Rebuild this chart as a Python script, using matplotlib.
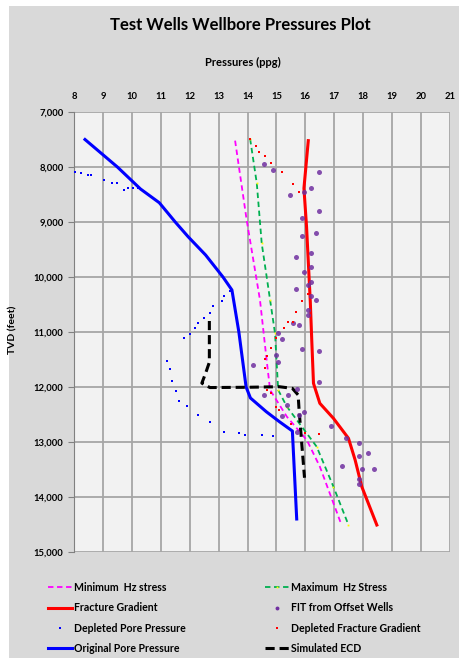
import numpy as np
import matplotlib
matplotlib.use('Agg')
import matplotlib.pyplot as plt
from matplotlib.lines import Line2D
from matplotlib.patches import Rectangle
from matplotlib.ticker import FuncFormatter

plt.rcParams['font.family'] = ['Lato', 'DejaVu Sans']

# ---- data (ppg vs TVD feet) ----
opp_tvd = [7500, 8000, 8400, 8650, 9000, 9270, 9600, 10000, 10236, 11000, 12000,
           12200, 12450, 12630, 12800, 14400]
opp_ppg = [8.38, 9.5, 10.3, 10.95, 11.5, 11.95, 12.55, 13.15, 13.46, 13.7, 13.95,
           14.1, 14.65, 15.1, 15.55, 15.7]

dpp_tvd = [8085, 8100, 8145, 8145, 8240, 8290, 8290, 8420, 8390, 8390, 8390,
           10250, 10340, 10436, 10527, 10660, 10750, 10842, 10920, 11036, 11115,
           11527, 11667, 11885, 12067, 12255, 12345, 12503, 12636, 12818, 12842,
           12873, 12873, 12885]
dpp_ppg = [8.03, 8.23, 8.5, 8.6, 9.05, 9.3, 9.5, 9.74, 9.88, 10.05, 10.22,
           13.4, 13.19, 13.1, 12.82, 12.7, 12.5, 12.3, 12.2, 12.0, 11.8,
           11.22, 11.31, 11.4, 11.52, 11.62, 11.9, 12.3, 12.7, 13.2, 13.72,
           13.9, 14.49, 14.89]

ecd_tvd = [10800, 11550, 11750, 11930, 12010, 12005, 11995, 12025, 12145, 12400, 13000, 13650]
ecd_ppg = [12.68, 12.68, 12.55, 12.42, 12.7, 14.0, 15.1, 15.55, 15.75, 15.78, 15.87, 15.97]

fg_tvd = [7521, 8387, 9085, 10450, 11145, 11933, 12297, 12570, 12933, 13327, 13812, 14509]
fg_ppg = [16.1, 15.95, 16.04, 16.17, 16.22, 16.28, 16.5, 16.97, 17.49, 17.72, 17.95, 18.47]

minhz_tvd = [7521, 8964, 10418, 11509, 12055, 12540, 12964, 13448, 14509]
minhz_ppg = [13.57, 13.97, 14.43, 14.66, 14.78, 15.36, 16.05, 16.5, 17.25]

maxhz_tvd = [7491, 8297, 9388, 10418, 11024, 12055, 12357, 13085, 13812, 14509]
maxhz_ppg = [14.09, 14.32, 14.49, 14.78, 14.95, 15.06, 15.36, 16.39, 16.97, 17.49]

dfg_tvd = [7491, 7618, 7721, 7800, 7921, 8097, 8315, 8461, 10315, 10436, 10630,
           10818, 10824, 10921, 11115, 11297, 11436, 11497, 11660, 12055, 12115,
           12357, 12418, 12678, 12830, 12855]
dfg_ppg = [14.09, 14.29, 14.4, 14.6, 14.8, 15.19, 15.58, 15.78, 16.1, 15.9, 15.68,
           15.39, 15.58, 15.27, 15.0, 14.8, 14.69, 14.62, 14.62, 14.69, 14.8,
           15.0, 15.1, 15.49, 15.99, 16.48]

fit_tvd = [7945, 8055, 8085, 8388, 8461, 8515, 8794, 8921, 9206, 9249, 9570, 9630,
           9824, 9915, 10097, 10151, 10212, 10345, 10424, 10600, 10697, 10830, 10873,
           11012, 11133, 11309, 11345, 11418, 11540, 11600, 11903, 12036, 12145,
           12139, 12327, 12527, 12509, 12460, 12818, 12709, 12927, 13024, 13206,
           13255, 13497, 13497, 13430, 13679, 13764]
fit_ppg = [14.58, 14.89, 16.47, 16.18, 15.95, 15.47, 16.48, 15.87, 16.37, 15.87, 16.18, 15.69,
           16.18, 15.96, 16.18, 16.09, 15.69, 16.2, 16.37, 16.1, 16.08, 15.58, 15.79,
           15.06, 15.18, 15.87, 16.47, 14.98, 15.06, 14.18, 16.47, 15.7, 14.58,
           15.39, 15.35, 15.18, 15.78, 15.96, 15.7, 16.87, 17.4, 17.86, 18.18,
           17.86, 17.97, 18.37, 17.25, 17.86, 17.86]

x_ticks = list(range(8, 22))
y_ticks = list(range(7000, 16000, 1000))

W, H = 459, 658
fig = plt.figure(figsize=(W / 100, H / 100), dpi=100, facecolor='white')
fig.patches.append(Rectangle((9 / W, 0), (W - 9) / W, 1 - 6 / H, transform=fig.transFigure,
                             facecolor='#d9d9d9', edgecolor='none', zorder=-10))

ax = fig.add_axes([74 / W, 1 - 552 / H, (450 - 74) / W, (552 - 112) / H])
ax.set_facecolor('#f2f2f2')

ax.plot(minhz_ppg, minhz_tvd, color='#ff00ff', lw=1.3, ls=(0, (3, 2)), zorder=3)
ax.plot(maxhz_ppg, maxhz_tvd, color='#00b050', lw=1.3, ls=(0, (3, 2)),
        marker='s', ms=1.3, mew=0, mfc='#ffff00', zorder=3)
ax.plot(fg_ppg, fg_tvd, color='#ff0000', lw=2.2, zorder=4)
ax.plot(opp_ppg, opp_tvd, color='#0000ff', lw=2.2, zorder=4)
ax.plot(ecd_ppg, ecd_tvd, color='black', lw=2.2, ls=(0, (3, 1.6)), zorder=5)
ax.plot(fit_ppg, fit_tvd, ls='none', marker='o', ms=3.6, mew=0, mfc='#7030a0',
        alpha=0.85, zorder=6)
ax.plot(dpp_ppg, dpp_tvd, ls='none', marker='s', ms=1.7, mew=0, mfc='#0000ff', zorder=6)
ax.plot(dfg_ppg, dfg_tvd, ls='none', marker='s', ms=1.7, mew=0, mfc='#ff0000', zorder=6)

ax.set_xlim(8, 21)
ax.set_ylim(15000, 7000)
ax.set_xticks(x_ticks)
ax.set_yticks(y_ticks)
ax.yaxis.set_major_formatter(FuncFormatter(lambda v, p: '{:,.0f}'.format(v)))
ax.xaxis.tick_top()
ax.tick_params(axis='x', length=0, pad=8, labelsize=6.8)
ax.tick_params(axis='y', length=4, color='#808080', direction='out', labelsize=6.8)
for lab in ax.get_xticklabels() + ax.get_yticklabels():
    lab.set_fontweight('bold')
ax.grid(True, color='#a6a6a6', lw=1.3)
ax.set_axisbelow(True)
for s in ['top', 'right', 'bottom']:
    ax.spines[s].set_visible(False)
ax.spines['left'].set_color('#808080')

fig.text(240 / W, 1 - 25 / H, 'Test Wells Wellbore Pressures Plot', ha='center', va='center',
         fontsize=12, fontweight='bold')
fig.text(243 / W, 1 - 62 / H, 'Pressures (ppg)', ha='center', va='center',
         fontsize=8, fontweight='bold')
fig.text(13 / W, 1 - 330 / H, 'TVD (feet)', ha='center', va='center', rotation=90,
         fontsize=7.5, fontweight='bold')

left_h = [
    Line2D([], [], color='#ff00ff', lw=1.3, ls=(0, (3, 2))),
    Line2D([], [], color='#ff0000', lw=2.2),
    Line2D([], [], ls='none', marker='s', ms=1.7, mew=0, color='#0000ff'),
    Line2D([], [], color='#0000ff', lw=2.2),
]
left_l = ['Minimum  Hz stress', 'Fracture Gradient', 'Depleted Pore Pressure', 'Original Pore Pressure']
right_h = [
    Line2D([], [], color='#00b050', lw=1.3, ls=(0, (3, 2)), marker='s', ms=1.3, mew=0,
           mfc='#ffff00', markevery=[1]),
    Line2D([], [], ls='none', marker='o', ms=2.8, mew=0, color='#7030a0'),
    Line2D([], [], ls='none', marker='s', ms=1.7, mew=0, color='#ff0000'),
    Line2D([], [], color='black', lw=2.2, ls=(0, (3, 1.6))),
]
right_l = ['Maximum  Hz Stress', 'FIT from Offset Wells', 'Depleted Fracture Gradient', 'Simulated ECD']

for h, l, x0 in [(left_h, left_l, 48 / W), (right_h, right_l, 265 / W)]:
    leg = fig.legend(h, l, loc='upper left', bbox_to_anchor=(x0, 1 - 582 / H), frameon=False,
                     handlelength=2.3, handletextpad=0.15, labelspacing=0.88,
                     prop={'size': 7.6, 'weight': 'bold'}, borderaxespad=0, borderpad=0)

fig.savefig('out.png', dpi=100, facecolor=fig.get_facecolor())
